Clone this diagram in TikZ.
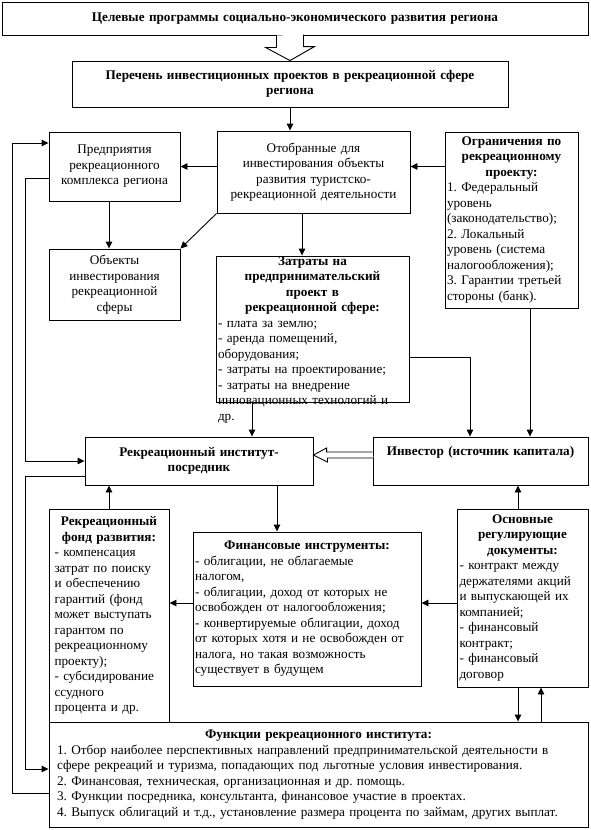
\documentclass[tikz,border=0pt]{standalone}
\usepackage{fontspec}
\setmainfont{Liberation Serif}
\frenchspacing
\usetikzlibrary{arrows.meta,positioning}

\begin{document}
\begin{tikzpicture}[x=1pt,y=-1pt,
  txt/.style={inner sep=0pt,align=left,font=\fontsize{13.2}{15.5}\selectfont},
  box/.style={txt,draw,line width=0.9pt,align=center},
  listbox/.style={box,align=left},
  arrow/.style={-{Triangle[length=7pt,width=6.5pt]},line width=0.9pt},
  hollow/.style={draw,line width=0.9pt,fill=white}
]
\useasboundingbox (0,0) rectangle (590,830);

% top
\node[box,minimum width=586pt,minimum height=33pt,text width=580pt] (goals) at (295,18.5)
  {\bfseries Целевые программы социально-экономического развития региона};
\node[box,minimum width=436pt,minimum height=46pt,text width=430pt] (lst) at (290,84)
  {\bfseries Перечень инвестиционных проектов в рекреационной сфере\\ региона};

% second row
\node[box,minimum width=131pt,minimum height=69pt,text width=127pt] (firms) at (114.5,166.5)
  {Предприятия\\ рекреационного\\ комплекса региона};
\node[box,minimum width=193pt,minimum height=82pt,text width=189pt] (chosen) at (313.5,172)
  {Отобранные для\\ инвестирования объекты\\ развития туристско-\\ рекреационной деятельности};
\node[listbox,minimum width=133pt,minimum height=176pt,text width=129pt] (limits) at (511.5,220)
  {{\centering\bfseries Ограничения по\\ рекреационному\\ проекту:\par}
   1. Федеральный\\ уровень\\ (законодательство);\\ 2. Локальный\\ уровень (система\\
   налогообложения);\\ 3. Гарантии третьей\\ стороны (банк).};
\node[box,minimum width=131pt,minimum height=71pt,text width=127pt] (objects) at (114.5,284.5)
  {Объекты\\ инвестирования\\ рекреационной\\ сферы};
\node[box,minimum width=193pt,minimum height=146pt] (costs) at (312.5,329) {};
\node[txt,text width=189pt,anchor=north] (costs-txt) at ([yshift=-1pt]costs.north)
  {{\centering\bfseries Затраты на\\ предпринимательский\\ проект в\\ рекреационной сфере:\par}
   - плата за землю;\\ - аренда помещений,\\ оборудования;\\ - затраты на проектирование;\\
   - затраты на внедрение\\ инновационных технологий и\\ др.};

% middle
\node[box,minimum width=228pt,minimum height=48pt,text width=224pt] (inst) at (199,461)
  {\bfseries Рекреационный институт-\\ посредник};
\node[box,minimum width=215pt,minimum height=48pt,text width=211pt] (investor) at (480.5,461)
  {{\bfseries Инвестор (источник капитала)}\\ \strut};

% lower row
\node[listbox,minimum width=120pt,minimum height=213pt,text width=109pt] (fund) at (109,615.5)
  {{\centering\bfseries Рекреационный\\ фонд развития:\par}
   - компенсация\\ затрат по поиску\\ и обеспечению\\ гарантий (фонд\\ может выступать\\
   гарантом по\\ рекреационному\\ проекту);\\ - субсидирование\\ ссудного\\ процента и др.};
\node[listbox,minimum width=228pt,minimum height=154pt,text width=224pt] (instr) at (307,609)
  {{\centering\bfseries Финансовые инструменты:\par}
   - облигации, не облагаемые\\ налогом,\\ - облигации, доход от которых не\\
   освобожден от налогообложения;\\ - конвертируемые облигации, доход\\
   от которых хотя и не освобожден от\\ налога, но такая возможность\\ существует в будущем};
\node[listbox,minimum width=131pt,minimum height=178pt,text width=126pt] (docs) at (522.5,598)
  {{\centering\bfseries Основные\\ регулирующие\\ документы:\par}
   - контракт между\\ держателями акций\\ и выпускающей их\\ компанией;\\ - финансовый\\
   контракт;\\ - финансовый\\ договор};
\node[listbox,minimum width=539pt,minimum height=105pt,text width=523pt] (funcs) at (318.5,774.5)
  {{\centering\bfseries Функции рекреационного института:\par}
   1. Отбор наиболее перспективных направлений предпринимательской деятельности в\\
   сфере рекреаций и туризма, попадающих под льготные условия инвестирования.\\
   2. Финансовая, техническая, организационная и др. помощь.\\
   3. Функции посредника, консультанта, финансовое участие в проектах.\\
   4. Выпуск облигаций и т.д., установление размера процента по займам, других выплат.};

% hollow arrows
\draw[hollow] (lst.north |- goals.south) ++(-13.5,0) -- ++(0,12) -- ++(-11,0)
  -- (lst.north) -- ++(24.5,-14) -- ++(-11,0) -- ++(0,-12);
\draw[hollow] ([yshift=6pt]investor.west) ++(0,-3) -- ++(-46,0) -- ++(0,-4)
  -- ([yshift=6pt]inst.east) -- ++(14,7) -- ++(0,-4) -- ++(46,0);

% arrows
\draw[arrow] (lst.south) -- (lst.south |- chosen.north);
\draw[arrow] (chosen.west |- firms.east) -- (firms.east);
\draw[arrow] (limits.west |- firms.east) -- (chosen.east |- firms.east);
\draw[arrow] ([xshift=-5.5pt]firms.south) -- ([xshift=-5.5pt]objects.north);
\draw[arrow] (chosen.south west) -- (objects.north east);
\draw[arrow] ([xshift=-11.5pt]chosen.south) -- ([xshift=-11.5pt]chosen.south |- costs.north);
\draw[arrow] ([xshift=-60.5pt]costs.south) -- ([xshift=-60.5pt]costs.south |- inst.north);
\draw[arrow] ([yshift=-28pt]costs.east) -| ([xshift=-10.5pt]investor.north);
\draw[arrow] ([xshift=18.5pt]limits.south) -- ([xshift=18.5pt]limits.south |- investor.north);
\draw[arrow] (fund.north) -- (fund.north |- inst.south);
\draw[arrow] ([xshift=-30pt]instr.north |- inst.south) -- ([xshift=-30pt]instr.north);
\draw[arrow] ([yshift=6pt]instr.west) -- ([yshift=6pt]instr.west -| fund.east);
\draw[arrow] ([yshift=6pt]instr.east -| docs.west) -- ([yshift=6pt]instr.east);
\draw[arrow] ([xshift=-4.5pt]docs.north) -- ([xshift=-4.5pt]docs.north |- investor.south);
\draw[arrow] ([xshift=-4.5pt]docs.south) -- ([xshift=-4.5pt]docs.south |- funcs.north);
\draw[arrow] ([xshift=18.5pt]docs.south |- funcs.north) -- ([xshift=18.5pt]docs.south);

% left feedback lines
\draw[arrow] ([yshift=-18.5pt]funcs.west) -- ++(-36,0) |- ([yshift=23.5pt]firms.west);
\draw[arrow] ([yshift=-11.5pt]firms.west) -- ++(-23,0) |- (inst.west);
\draw[arrow] ([yshift=-15pt]inst.west) -- ++(-59,0) |- ([yshift=5.5pt]funcs.west);
\end{tikzpicture}
\end{document}
